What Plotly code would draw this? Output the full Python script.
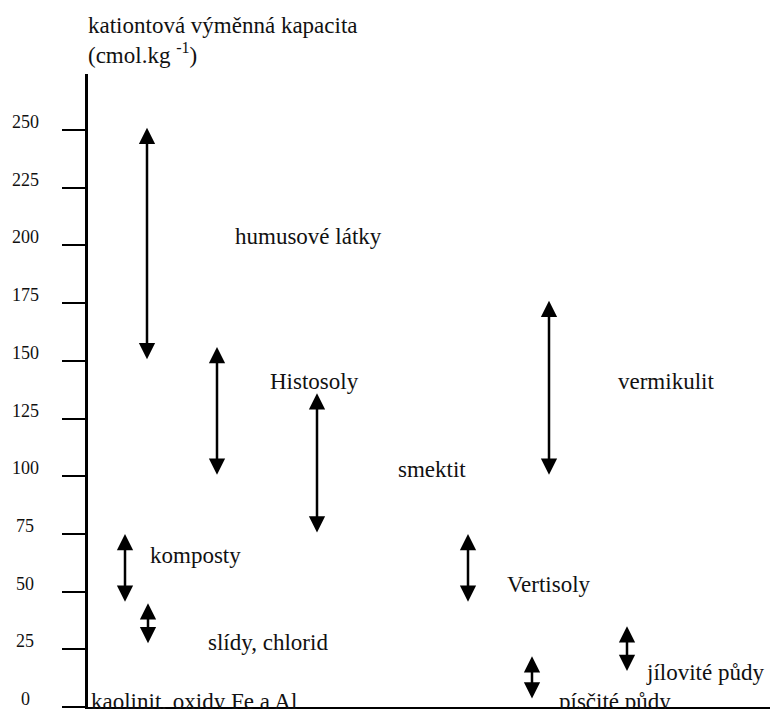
import plotly.graph_objects as go

# ---- data ----
tick_vals = [0, 25, 50, 75, 100, 125, 150, 175, 200, 225, 250]
tick_labels = [str(v) for v in tick_vals]

# ranges (cmol/kg) shown by double-headed arrows
range_names = ["humusové látky", "Histosoly", "smektit", "vermikulit", "komposty",
               "slídy, chlorid", "Vertisoly", "jílovité půdy", "písčité půdy"]
range_low = [150, 100, 75, 100, 45, 27, 45, 15, 3]
range_high = [251, 156, 136, 176, 75, 45, 75, 35, 22]

# horizontal placement of each arrow (layout only)
arrow_x = [59, 129, 229, 461, 37, 60, 380, 539, 444]

# text labels and their layout placement
label_texts = ["humusové látky", "Histosoly", "smektit", "vermikulit", "komposty",
               "slídy, chlorid", "kaolinit, oxidy Fe a Al", "Vertisoly",
               "jílovité půdy", "písčité půdy"]
label_x = [145, 180, 308, 528, 60, 118, 1, 417, 556, 469]
label_y = [204, 141, 103, 141, 65.5, 28, 2.5, 53, 15, 2.5]

title_text = "kationtová výměnná kapacita<br>(cmol.kg <sup>-1</sup>)"

FONT = "Liberation Serif"
INK = "#111111"

fig = go.Figure()
# invisible trace to establish axes
fig.add_trace(go.Scatter(x=[0], y=[0], mode="markers", marker=dict(opacity=0),
                         hoverinfo="skip", showlegend=False))

annotations = []
for name, lo, hi, xp in zip(range_names, range_low, range_high, arrow_x):
    annotations.append(dict(
        x=xp, y=hi, ax=xp, ay=lo, xref="x", yref="y", axref="x", ayref="y",
        text="", showarrow=True, arrowhead=2, startarrowhead=2,
        arrowside="end+start", arrowwidth=2.5, arrowsize=1.3, startarrowsize=1.3,
        arrowcolor="black", standoff=0, startstandoff=0))

for t, xp, yp in zip(label_texts, label_x, label_y):
    annotations.append(dict(
        x=xp, y=yp, xref="x", yref="y", text=t, showarrow=False,
        xanchor="left", yanchor="middle", font=dict(family=FONT, size=23, color=INK)))

for v, lab in zip(tick_vals, tick_labels):
    annotations.append(dict(
        x=0, xref="paper", xshift=-63, y=v, yref="y", yshift=8, text=lab,
        showarrow=False, xanchor="center", yanchor="middle",
        font=dict(family=FONT, size=18, color=INK)))

# axis title (two lines, top-left)
annotations.append(dict(
    x=0, xref="paper", xanchor="left", xshift=-2, y=1, yref="paper", yanchor="top",
    yshift=63, text=title_text, align="left", showarrow=False,
    font=dict(family=FONT, size=23, color=INK)))

# page has an 8px body margin; figure sized to fit the 778x709 window
fig.update_layout(
    width=770, height=701,
    margin=dict(l=80, r=0, t=66, b=2),
    paper_bgcolor="white", plot_bgcolor="white",
    showlegend=False,
    annotations=annotations,
    xaxis=dict(range=[0, 690], showgrid=False, zeroline=False, showticklabels=False,
               ticks="", showline=True, linewidth=2.5, linecolor="black", fixedrange=True),
    yaxis=dict(range=[0, 274.3], showgrid=False, zeroline=False, showticklabels=False,
               tickmode="array", tickvals=tick_vals, ticks="outside", ticklen=23,
               tickwidth=2, tickcolor="black",
               showline=True, linewidth=3, linecolor="black", fixedrange=True),
)

fig.write_html("out.html")
